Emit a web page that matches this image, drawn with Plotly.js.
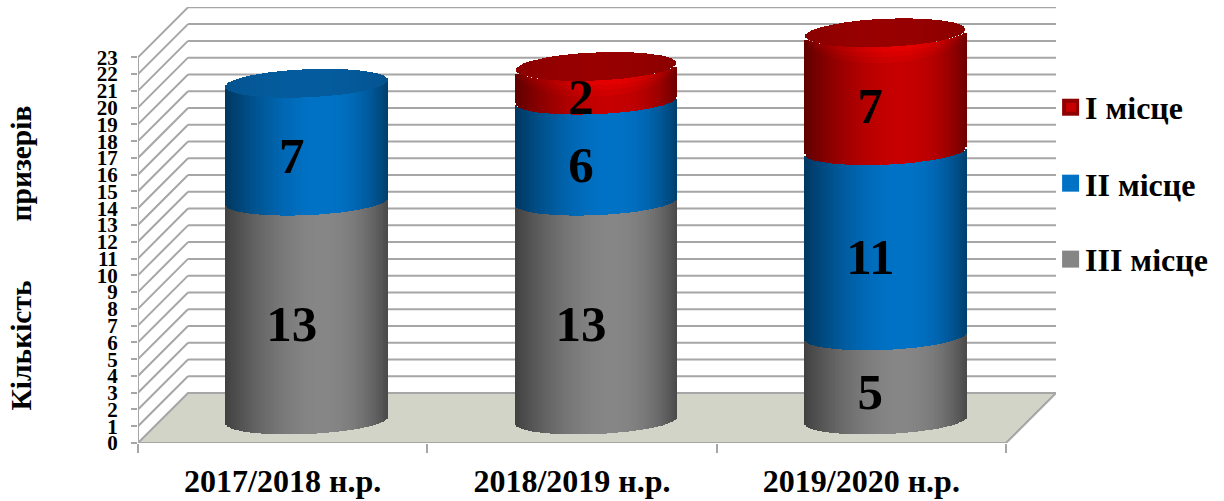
<!DOCTYPE html>
<html>
<head>
<meta charset="utf-8">
<script src="https://cdn.plot.ly/plotly-3.0.1.min.js"></script>
<style>html,body{margin:0;padding:0;background:#fff}</style>
</head>
<body>
<div id="chart" style="width:1224px;height:501px"></div>
<script>
const categories = ["2017/2018 н.р.", "2018/2019 н.р.", "2019/2020 н.р."];
const thirdPlace = [13, 13, 5];
const secondPlace = [7, 6, 11];
const firstPlace = [0, 2, 7];
const seriesNames = ["I місце", "II місце", "III місце"];
const yTicks = [...Array(24).keys()];

const W = 1224, H = 501, L = 138, B = 443.5, UX = 289.3, UY = 16.78;
const serif = "Liberation Serif";
const depthX = 50 / UX, depthY = 50 / UY;
const xMax = 3 + depthX, yMax = 26;
const plotW = xMax * UX, plotH = yMax * UY;
const px = x => (x - L) / plotW;
const py = y => (B - y) / plotH;

// cylinder geometry in data units
const N = 110, halfW = 81 / UX, shiftX = 24 / UX, ell = 14 / UY, tilt = 3.4 / UY, floorY = 1.37, yk = 1.004;
const ts = Array.from({length: N}, (_, i) => -1 + (2 * i + 1) / N);
const arc = t => Math.sqrt(Math.max(0, 1 - t * t));
const tl = t => tilt * t;
const Y = v => floorY + v * yk;
const shade = t => t < 0.15
  ? 1 - 0.52 * Math.pow((0.15 - t) / 1.15, 1.7)
  : 1 - 0.45 * Math.pow((t - 0.15) / 0.85, 2.4);
const mul = (c, f) => `rgb(${c.map(v => Math.round(Math.min(255, v * f))).join(",")})`;
const bevel = t => { const a = Math.abs(t); return a < 0.95 ? 0 : 0.3 * (1 - Math.sqrt(Math.max(0, 1 - Math.pow((a - 0.95) / 0.05, 2)))); };

function body(name, values, bases, rgb, rounded) {
  const x = [], base = [], y = [], color = [];
  values.forEach((v, c) => {
    if (!v) return;
    ts.forEach(t => {
      const r = rounded ? bevel(t) : 0;
      x.push(c + 0.5 + shiftX + t * halfW);
      const b0 = Y(bases[c]) - ell * arc(t) + tl(t) + r;
      const b1 = Y(bases[c] + v) - ell * arc(t) + tl(t) - r;
      base.push(b0); y.push(b1 - b0); color.push(mul(rgb, shade(t)));
    });
  });
  return {type: "bar", name, x, y, base, width: 2 * halfW / N * 1.35,
    marker: {color, line: {width: 0}}, hoverinfo: "skip", showlegend: false};
}
function rim(values, bases, rgb, h, f) {
  const x = [], base = [], y = [], color = [];
  values.forEach((v, c) => {
    if (!v) return;
    ts.forEach(t => {
      const top = Y(bases[c] + v) - ell * arc(t) + tl(t) - bevel(t);
      x.push(c + 0.5 + shiftX + t * halfW);
      base.push(top - h * arc(t)); y.push(h * arc(t));
      color.push(mul(rgb, shade(t) * f));
    });
  });
  return {type: "bar", x, y, base, width: 2 * halfW / N * 1.35, marker: {color, line: {width: 0}}, hoverinfo: "skip", showlegend: false};
}
function cap(tops, rgb, inset) {
  const x = [], base = [], y = [], color = [];
  tops.forEach((v, c) => {
    if (v === null) return;
    ts.forEach(t => {
      const xs = c + 0.5 + shiftX + t * halfW * inset;
      x.push(xs);
      base.push(Y(v) - ell * arc(t) + tl(t)); y.push(2 * ell * arc(t));
      color.push(mul(rgb, 1 - 0.1 * t * t));
    });
  });
  return {type: "bar", x, y, base, width: 2 * halfW * inset / N * 1.35, marker: {color, line: {width: 0}}, hoverinfo: "skip", showlegend: false};
}

const zeros = [0, 0, 0];
const secondBase = thirdPlace.slice();
const firstBase = thirdPlace.map((v, i) => v + secondPlace[i]);
const totals = firstBase.map((v, i) => v + firstPlace[i]);
const GREY = [134, 134, 134], BLUE = [0, 114, 198], RED = [198, 0, 0];

const labelX = [], labelY = [], labelT = [];
[[thirdPlace, zeros], [secondPlace, secondBase], [firstPlace, firstBase]].forEach(([vals, bases]) => {
  vals.forEach((v, c) => {
    if (!v) return;
    labelX.push(c + 0.5 + 9 / UX);
    labelY.push(Y(bases[c] + v / 2) - 1.08);
    labelT.push(String(v));
  });
});

const traces = [
  body(seriesNames[2], thirdPlace, zeros, GREY, false),
  body(seriesNames[1], secondPlace, secondBase, BLUE, false),
  cap(totals.map((v, i) => firstPlace[i] ? null : v), [4, 92, 158], 1),
  body(seriesNames[0], firstPlace, firstBase, RED, true),
  rim(firstPlace, firstBase, RED, 0.95, 1.05),
  rim(firstPlace, firstBase, RED, 0.6, 1.1),
  rim(firstPlace, firstBase, RED, 0.3, 1.15),
  cap(totals.map((v, i) => firstPlace[i] ? v : null), [152, 0, 0], 0.985),
  {type: "scatter", mode: "text", x: labelX, y: labelY, text: labelT, cliponaxis: false,
   textposition: "middle center", textfont: {family: serif, size: 51, color: "#000", weight: 700},
   hoverinfo: "skip", showlegend: false}
];

// 3-D walls, floor and left edge
const wall = {color: "#a6a6a6", width: 2};
const shapes = [
  {type: "path", layer: "below", xref: "x", yref: "y",
   path: `M0,0 L${depthX},${depthY} L${xMax},${depthY} L3,0 Z`,
   fillcolor: "#d1d4c6", line: wall}
];
yTicks.forEach(k => {
  if (k > 0) shapes.push({type: "line", layer: "below", xref: "x", yref: "y", x0: 0, y0: k, x1: depthX, y1: k + depthY, line: wall});
  if (k > 0) shapes.push({type: "line", layer: "below", xref: "x", yref: "y", x0: depthX, y0: k + depthY, x1: xMax, y1: k + depthY, line: wall});
});
shapes.push({type: "line", layer: "below", xref: "x", yref: "y", x0: 0, y0: 0, x1: 0, y1: 23, line: wall});

// legend swatches
const swatch = (y, color, line) => ({type: "rect", xref: "paper", yref: "paper",
  x0: px(1062), x1: px(1079), y0: py(y + 17), y1: py(y), fillcolor: color, line: line || {width: 0}});
shapes.push(swatch(99, "#8f0000"));
shapes.push({type: "rect", xref: "paper", yref: "paper", x0: px(1066), x1: px(1076), y0: py(112), y1: py(103), fillcolor: "#c60000", line: {width: 0}});
shapes.push(swatch(175, "#0072c6"));
shapes.push(swatch(251, "#858585"));

const legendText = (t, y) => ({text: `<b>${t}</b>`, xref: "paper", yref: "paper", x: px(1083), y: py(y),
  xanchor: "left", yanchor: "middle", showarrow: false, font: {family: serif, size: 32, color: "#000"}});

const annotations = [
  legendText(seriesNames[0], 108),
  legendText(seriesNames[1], 185),
  legendText(seriesNames[2], 260),
  {text: "<b>Кількість\u00A0\u00A0\u00A0\u00A0\u00A0\u00A0\u00A0\u00A0призерів</b>", xref: "paper", yref: "paper",
   x: px(21), y: py(258), textangle: -90, showarrow: false, xanchor: "center", yanchor: "middle",
   font: {family: serif, size: 29.5, color: "#000"}}
];

const layout = {
  width: W, height: H, paper_bgcolor: "#fff", plot_bgcolor: "rgba(0,0,0,0)",
  margin: {l: L, r: W - L - plotW, t: B - plotH, b: H - B, pad: 0},
  barmode: "overlay", bargap: 0, showlegend: false, hovermode: false,
  xaxis: {type: "linear", range: [0, xMax], showgrid: false, zeroline: false, showline: false,
    tickmode: "array", tickvals: [0.5, 1.5, 2.5], ticktext: categories, ticks: "", ticklabelstandoff: 16,
    tickfont: {family: serif, size: 32, color: "#000", weight: 700},
    minor: {tickmode: "array", tickvals: [0, 1, 2, 3], ticks: "outside", ticklen: 9, tickwidth: 2, tickcolor: "#a6a6a6", showgrid: false}},
  yaxis: {range: [0, yMax], showgrid: false, zeroline: false, showline: false,
    tickmode: "array", tickvals: yTicks, ticktext: yTicks.map(String), ticks: "outside", ticklen: 6, tickwidth: 2,
    tickcolor: "#a6a6a6", ticklabelstandoff: 9,
    tickfont: {family: serif, size: 21, color: "#000", weight: 700}},
  shapes, annotations
};
Plotly.newPlot("chart", traces, layout, {displayModeBar: false, staticPlot: true});
</script>
</body>
</html>
